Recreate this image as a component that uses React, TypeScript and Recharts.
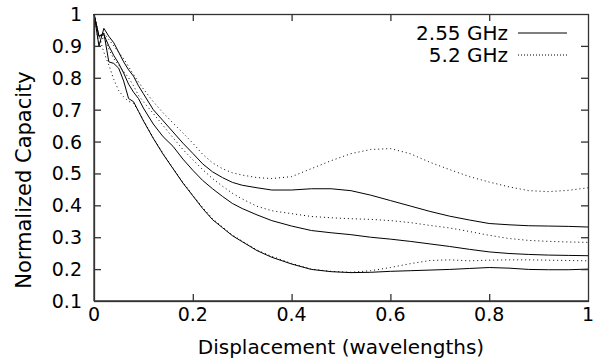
import React from 'react';
import { LineChart, Line, XAxis, YAxis } from 'recharts';

const FONT = '"DejaVu Sans", sans-serif';

// displacement in wavelengths
const xs = [
  0, 0.01, 0.02, 0.03, 0.04, 0.05, 0.06, 0.07, 0.08, 0.09, 0.1,
  0.12, 0.14, 0.16, 0.18, 0.2, 0.22, 0.24, 0.26, 0.28, 0.3,
  0.33, 0.36,
  0.4, 0.44, 0.48, 0.52, 0.56, 0.6, 0.64, 0.68, 0.72, 0.76, 0.8, 0.84, 0.88, 0.92, 0.96, 1.0,
];

// 2.55 GHz (solid)
const lowSolid = [
  1.0, 0.93, 0.94, 0.85, 0.845, 0.83, 0.79, 0.735, 0.725, 0.695, 0.665,
  0.61, 0.56, 0.515, 0.47, 0.43, 0.39, 0.355, 0.33, 0.305, 0.286,
  0.258, 0.237,
  0.216, 0.199, 0.192, 0.189, 0.19, 0.193, 0.195, 0.197, 0.199, 0.202, 0.205, 0.203, 0.199, 0.198, 0.198, 0.2,
];
const midSolid = [
  1.0, 0.93, 0.935, 0.9, 0.87, 0.845, 0.815, 0.78, 0.755, 0.735, 0.705,
  0.655, 0.615, 0.585, 0.545, 0.51, 0.478, 0.452, 0.428, 0.406, 0.39,
  0.37, 0.352,
  0.335, 0.321, 0.314, 0.308, 0.3, 0.294, 0.287, 0.279, 0.271, 0.262, 0.254, 0.249, 0.246, 0.244, 0.243, 0.242,
];
const highSolid = [
  1.0, 0.9, 0.955, 0.93, 0.91, 0.88, 0.85, 0.825, 0.805, 0.775, 0.75,
  0.7, 0.665, 0.63, 0.595, 0.563, 0.53, 0.505, 0.487, 0.472, 0.463,
  0.455, 0.448,
  0.448, 0.452, 0.452, 0.446, 0.432, 0.415, 0.398, 0.381, 0.366, 0.354, 0.343, 0.339, 0.336, 0.335, 0.334, 0.332,
];

// 5.2 GHz (dotted)
const lowDotted = [
  1.0, 0.93, 0.88, 0.84, 0.795, 0.76, 0.74, 0.726, 0.72, 0.695, 0.667,
  0.612, 0.562, 0.517, 0.472, 0.432, 0.393, 0.358, 0.332, 0.307, 0.288,
  0.26, 0.24,
  0.218, 0.2, 0.193, 0.19, 0.195, 0.205, 0.217, 0.227, 0.229, 0.226, 0.228, 0.229, 0.229, 0.228, 0.227, 0.226,
];
const midDotted = [
  1.0, 0.9, 0.93, 0.89, 0.86, 0.84, 0.82, 0.8, 0.775, 0.745, 0.725,
  0.688, 0.65, 0.612, 0.575, 0.543, 0.512, 0.484, 0.46, 0.438, 0.42,
  0.397, 0.383,
  0.374, 0.365, 0.361, 0.358, 0.356, 0.352, 0.346, 0.337, 0.329, 0.318, 0.306, 0.296, 0.29, 0.287, 0.285, 0.284,
];
const highDotted = [
  1.0, 0.93, 0.94, 0.92, 0.9, 0.88, 0.86, 0.835, 0.81, 0.787, 0.765,
  0.725, 0.69, 0.658, 0.627, 0.595, 0.56, 0.533, 0.515, 0.502, 0.495,
  0.487, 0.484,
  0.49, 0.515, 0.54, 0.562, 0.575, 0.578, 0.562, 0.535, 0.512, 0.49, 0.473, 0.458, 0.446, 0.443, 0.447, 0.455,
];

const xTicks = [0, 0.2, 0.4, 0.6, 0.8, 1];
const yTicks = [0.1, 0.2, 0.3, 0.4, 0.5, 0.6, 0.7, 0.8, 0.9, 1];
const legendItems = [
  { name: '2.55 GHz', dash: undefined },
  { name: '5.2 GHz', dash: '1 2' },
];

const data = xs.map((x, i) => ({
  x,
  lowSolid: lowSolid[i],
  midSolid: midSolid[i],
  highSolid: highSolid[i],
  lowDotted: lowDotted[i],
  midDotted: midDotted[i],
  highDotted: highDotted[i],
}));

// layout of the plot box (same numbers go into the chart margins / axis sizes)
const W = 605;
const H = 362;
const PLOT = { left: 94, top: 14, right: 588, bottom: 301 };
const DOTS = '1 3';
const TICK_LEN = 7;
const FRAME = '#333';

// default tickSize 6 + tickMargin 2 => labels are placed 8px off the axis
const BottomTick = ({ x, y, payload }: any) => (
  <g>
    <text x={x} y={y + 12} textAnchor="middle" fontSize={19} fontFamily={FONT} fill="#000">
      {String(payload.value)}
    </text>
  </g>
);

const LeftTick = ({ x, y, payload }: any) => (
  <g>
    <text x={x - 4} y={y + 7} textAnchor="end" fontSize={19} fontFamily={FONT} fill="#000">
      {String(payload.value)}
    </text>
  </g>
);

// border box with inward ticks on all four sides (gnuplot style)
function Frame() {
  const pw = PLOT.right - PLOT.left;
  const ph = PLOT.bottom - PLOT.top;
  const sx = (v: number) => PLOT.left + ((v - xTicks[0]) / (xTicks[xTicks.length - 1] - xTicks[0])) * pw;
  const sy = (v: number) => PLOT.bottom - ((v - yTicks[0]) / (yTicks[yTicks.length - 1] - yTicks[0])) * ph;
  return (
    <svg
      width={W}
      height={H}
      style={{ position: 'absolute', left: 0, top: 0, pointerEvents: 'none', zIndex: 2 }}
    >
      <rect x={PLOT.left + 0.5} y={PLOT.top + 0.5} width={pw} height={ph} fill="none" stroke={FRAME} strokeWidth={1.3} />
      {xTicks.slice(1, -1).map((t) => (
        <g key={`x${t}`}>
          <line x1={sx(t) + 0.5} y1={PLOT.bottom} x2={sx(t) + 0.5} y2={PLOT.bottom - TICK_LEN} stroke={FRAME} strokeWidth={1.3} />
          <line x1={sx(t) + 0.5} y1={PLOT.top} x2={sx(t) + 0.5} y2={PLOT.top + TICK_LEN} stroke={FRAME} strokeWidth={1.3} />
        </g>
      ))}
      {yTicks.slice(1, -1).map((t) => (
        <g key={`y${t}`}>
          <line x1={PLOT.left} y1={sy(t) + 0.5} x2={PLOT.left + TICK_LEN} y2={sy(t) + 0.5} stroke={FRAME} strokeWidth={1.3} />
          <line x1={PLOT.right} y1={sy(t) + 0.5} x2={PLOT.right - TICK_LEN} y2={sy(t) + 0.5} stroke={FRAME} strokeWidth={1.3} />
        </g>
      ))}
    </svg>
  );
}

function KeyBox() {
  return (
    <div style={{ position: 'absolute', left: 400, top: 22, width: 167, fontFamily: FONT, fontSize: 20, color: '#000', zIndex: 3 }}>
      {legendItems.map((item) => (
        <div
          key={item.name}
          style={{ display: 'flex', justifyContent: 'flex-end', alignItems: 'center', height: 22, lineHeight: '22px' }}
        >
          <span style={{ marginRight: 10 }}>{item.name}</span>
          <svg width={49} height={4}>
            <line x1={0} y1={2} x2={49} y2={2} stroke="#000" strokeDasharray={item.dash} />
          </svg>
        </div>
      ))}
    </div>
  );
}

function AxisTitles() {
  return (
    <>
      <div
        style={{
          position: 'absolute', left: PLOT.left, top: 335, width: PLOT.right - PLOT.left, textAlign: 'center',
          fontFamily: FONT, fontSize: 20, lineHeight: '24px', color: '#000', whiteSpace: 'nowrap',
        }}
      >
        Displacement (wavelengths)
      </div>
      <div style={{ position: 'absolute', left: 24, top: 180, width: 0, height: 0 }}>
        <div
          style={{
            position: 'absolute', left: 0, top: 0, transform: 'translate(-50%, -50%) rotate(-90deg)',
            fontFamily: FONT, fontSize: 21, lineHeight: '24px', color: '#000', whiteSpace: 'nowrap',
          }}
        >
          Normalized Capacity
        </div>
      </div>
    </>
  );
}

export default function App() {
  return (
    <div style={{ position: 'absolute', left: 0, top: 0, width: W, height: H }}>
      <LineChart
        width={W}
        height={H}
        data={data}
        margin={{ top: PLOT.top, right: W - PLOT.right, left: 0, bottom: 0 }}
      >
        <XAxis
          dataKey="x"
          type="number"
          domain={[0, 1]}
          ticks={xTicks}
          interval={0}
          height={H - PLOT.bottom}
          tickLine={false}
          axisLine={{ stroke: FRAME, strokeWidth: 1.3 }}
          tick={BottomTick}
        />
        <YAxis
          type="number"
          domain={[0.1, 1]}
          ticks={yTicks}
          interval={0}
          width={PLOT.left}
          tickLine={false}
          axisLine={{ stroke: FRAME, strokeWidth: 1.3 }}
          tick={LeftTick}
        />
        <Line type="linear" dataKey="lowSolid" stroke="#000" strokeWidth={1} dot={false} isAnimationActive={false} />
        <Line type="linear" dataKey="midSolid" stroke="#000" strokeWidth={1} dot={false} isAnimationActive={false} />
        <Line type="linear" dataKey="highSolid" stroke="#000" strokeWidth={1} dot={false} isAnimationActive={false} />
        <Line type="linear" dataKey="lowDotted" stroke="#000" strokeWidth={1} strokeDasharray={DOTS} dot={false} isAnimationActive={false} />
        <Line type="linear" dataKey="midDotted" stroke="#000" strokeWidth={1} strokeDasharray={DOTS} dot={false} isAnimationActive={false} />
        <Line type="linear" dataKey="highDotted" stroke="#000" strokeWidth={1} strokeDasharray={DOTS} dot={false} isAnimationActive={false} />
      </LineChart>
      <Frame />
      <AxisTitles />
      <KeyBox />
    </div>
  );
}
